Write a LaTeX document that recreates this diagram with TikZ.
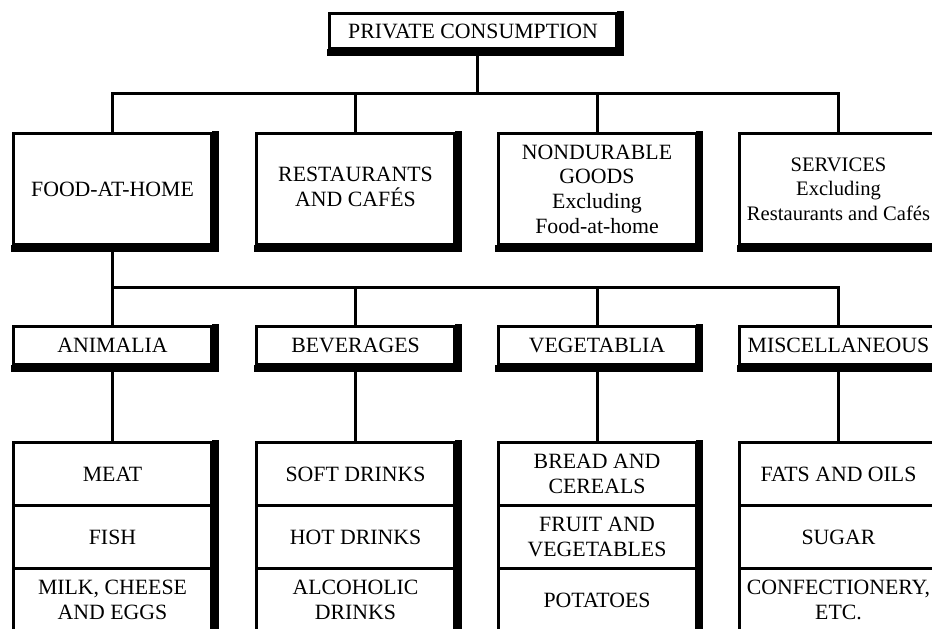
\documentclass[tikz,border=0pt]{standalone}
\usepackage{fontspec}
\setmainfont{Liberation Serif}

% Heavy right and bottom edge of a framed box (or of a stack of boxes)
\newcommand\heavyedge[2]{%
  \fill ([xshift=-1.5pt,yshift=1.5pt]#1.north east) rectangle ([xshift=5.5pt,yshift=-5.5pt]#2.south east);
  \fill ([xshift=-1.5pt,yshift=1.5pt]#2.south west) rectangle ([xshift=5.5pt,yshift=-5.5pt]#2.south east);}

\begin{document}
\begin{tikzpicture}[x=1pt,y=-1pt,
  font=\fontsize{21.8}{24.7}\selectfont,
  box/.style={draw, line width=3pt, fill=white, inner sep=0pt, align=center, minimum width=198pt},
  topbox/.style={box, minimum width=287pt, minimum height=35pt},
  catbox/.style={box, minimum height=111pt},
  groupbox/.style={box, minimum height=38pt},
  itembox/.style={box, minimum height=63pt},
  conn/.style={line width=3pt, line join=miter}]
\useasboundingbox (0,0) rectangle (932,629);
\clip (0,0) rectangle (932,629);

% top
\node[topbox] (pc) at (473,31) {PRIVATE CONSUMPTION};

% main categories
\node[catbox] (fah) at (112.5,189) {FOOD-AT-HOME};
\node[catbox] (rc)  at (355.5,189) {\raisebox{3pt}{\begin{tabular}{@{}c@{}}RESTAURANTS\\[-1.4pt]AND CAFÉS\end{tabular}}};
\node[catbox] (nd)  at (597,189)   {NONDURABLE\\GOODS\\Excluding\\Food-at-home};
\node[catbox, font=\fontsize{20.6}{24.5}\selectfont] (sv) at (838.5,189)
  {SERVICES\\Excluding\\Restaurants and Cafés};

% food groups
\node[groupbox] (an) at (112.5,345.5) {ANIMALIA};
\node[groupbox] (bv) at (355.5,345.5) {BEVERAGES};
\node[groupbox] (vg) at (597,345.5)   {VEGETABLIA};
\node[groupbox] (ms) at (838.5,345.5) {MISCELLANEOUS};

% food items
\node[itembox] (a1) at (112.5,474) {MEAT};
\node[itembox] (a2) at (112.5,537) {FISH};
\node[itembox] (a3) at (112.5,600) {MILK, CHEESE\\AND EGGS};
\node[itembox] (b1) at (355.5,474) {SOFT DRINKS};
\node[itembox] (b2) at (355.5,537) {HOT DRINKS};
\node[itembox] (b3) at (355.5,600) {ALCOHOLIC\\DRINKS};
\node[itembox] (v1) at (597,474)   {BREAD AND\\CEREALS};
\node[itembox] (v2) at (597,537)   {FRUIT AND\\VEGETABLES};
\node[itembox] (v3) at (597,600)   {POTATOES};
\node[itembox] (m1) at (838.5,474) {FATS AND OILS};
\node[itembox] (m2) at (838.5,537) {SUGAR};
\node[itembox] (m3) at (838.5,600) {CONFECTIONERY,\\ETC.};

\foreach \n in {pc,fah,rc,nd,sv,an,bv,vg,ms} {\heavyedge{\n}{\n}}
\heavyedge{a1}{a3}
\heavyedge{b1}{b3}
\heavyedge{v1}{v3}
\heavyedge{m1}{m3}

% connectors
\coordinate (j1) at (477,93.5);
\draw[conn] ([xshift=4pt]pc.south) -- (j1);
\draw[conn] (fah.north) |- (j1) -| (sv.north);
\draw[conn] (rc.north) -- (rc.north |- j1);
\draw[conn] (nd.north) -- (nd.north |- j1);

\coordinate (j2) at (112.5,287.5);
\draw[conn] (fah.south) -- (j2) -| (ms.north);
\draw[conn] (an.north) -- (j2);
\draw[conn] (bv.north) -- (bv.north |- j2);
\draw[conn] (vg.north) -- (vg.north |- j2);

\draw[conn] (an.south) -- (a1.north);
\draw[conn] (bv.south) -- (b1.north);
\draw[conn] (vg.south) -- (v1.north);
\draw[conn] (ms.south) -- (m1.north);
\end{tikzpicture}
\end{document}
